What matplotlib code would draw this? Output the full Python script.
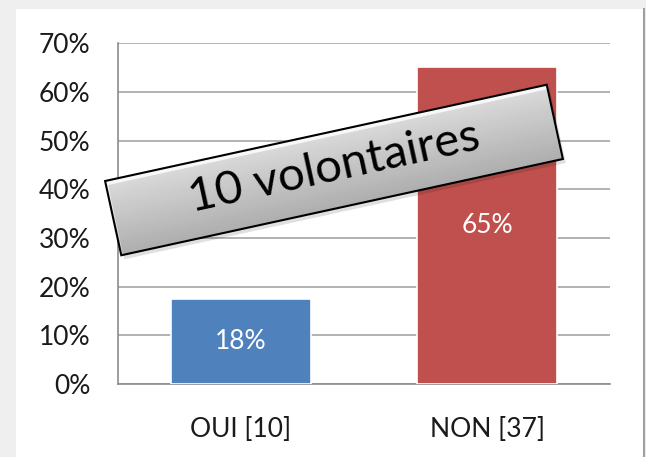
import matplotlib.pyplot as plt
import matplotlib.patches as mpatches
import matplotlib.transforms as mtransforms
import numpy as np

categories = ['OUI [10]', 'NON [37]']
values = [17.5, 65.0]
value_labels = ['18%', '65%']
colors = ['#4f81bd', '#c0504d']
yticks = [0, 10, 20, 30, 40, 50, 60, 70]
banner_text = '10 volontaires'

plt.rcParams['font.family'] = ['Lato', 'DejaVu Sans']

fig = plt.figure(figsize=(6.46, 4.57), dpi=100)
fig.patch.set_facecolor('#efefef')

# white panel behind the chart (figure pixel coordinates)
bg = fig.add_axes([0, 0, 1, 1], zorder=-5)
bg.set_xlim(0, 646)
bg.set_ylim(0, 457)
bg.axis('off')
bg.add_patch(mpatches.Rectangle((16, 0), 628, 448, fc='white', ec='none'))
bg.plot([644, 644], [0, 448], color='#a0a0a0', lw=1.5)

ax = fig.add_axes([0.1827, 0.1597, 0.7616, 0.746])
ax.set_facecolor('none')
x = np.arange(len(categories))
bars = ax.bar(x, values, width=0.57, color=colors, edgecolor='white', linewidth=1.2, zorder=3)
for b, lab in zip(bars, value_labels):
    ax.text(b.get_x() + b.get_width() / 2, b.get_height() / 2, lab,
            ha='center', va='center', color='white', fontsize=19, zorder=4)

ax.set_xlim(-0.5, len(categories) - 0.5)
ax.set_ylim(0, 70)
ax.set_yticks(yticks)
ax.set_yticklabels([f'{t}%' for t in yticks], fontsize=19, color='#1a1a1a')
ax.set_xticks(x)
ax.set_xticklabels(categories, fontsize=19, color='#1a1a1a')
ax.tick_params(length=0)
ax.tick_params(axis='y', pad=20)
ax.tick_params(axis='x', pad=24)
ax.yaxis.grid(True, color='#a6a6a6', lw=1.2, zorder=0)
ax.set_axisbelow(True)
for s in ['top', 'right']:
    ax.spines[s].set_visible(False)
ax.spines['left'].set_color('#8c8c8c')
ax.spines['bottom'].set_color('#8c8c8c')
ax.spines['left'].set_linewidth(1.2)
ax.spines['bottom'].set_linewidth(1.2)

# rotated banner
ov = fig.add_axes([0, 0, 1, 1], zorder=10)
ov.set_xlim(0, 646)
ov.set_ylim(0, 457)
ov.axis('off')
angle = 12.3
cx, cy = 334, 287
w, h = 452, 76
tr = mtransforms.Affine2D().rotate_deg(angle).translate(cx, cy) + ov.transData
shadow_tr = mtransforms.Affine2D().rotate_deg(angle).translate(cx + 3, cy - 4) + ov.transData
ov.add_patch(mpatches.Rectangle((-w / 2, -h / 2), w, h, transform=shadow_tr,
                                fc='#000000', alpha=0.12, ec='none'))
rect = mpatches.Rectangle((-w / 2, -h / 2), w, h, transform=tr, fc='none', ec='black', lw=1.5)
grad = np.linspace(0.98, 0.78, 100).reshape(-1, 1)
im = ov.imshow(grad, cmap='gray', vmin=0, vmax=1, aspect='auto',
               extent=(-w / 2, w / 2, -h / 2, h / 2), transform=tr, interpolation='bicubic')
im.set_clip_path(rect)
ov.add_patch(rect)
ov.set_xlim(0, 646)
ov.set_ylim(0, 457)
ov.text(cx, cy + 2, banner_text, rotation=angle, rotation_mode='anchor',
        ha='center', va='center', fontsize=34, color='black')

fig.savefig('out.png', dpi=100)
